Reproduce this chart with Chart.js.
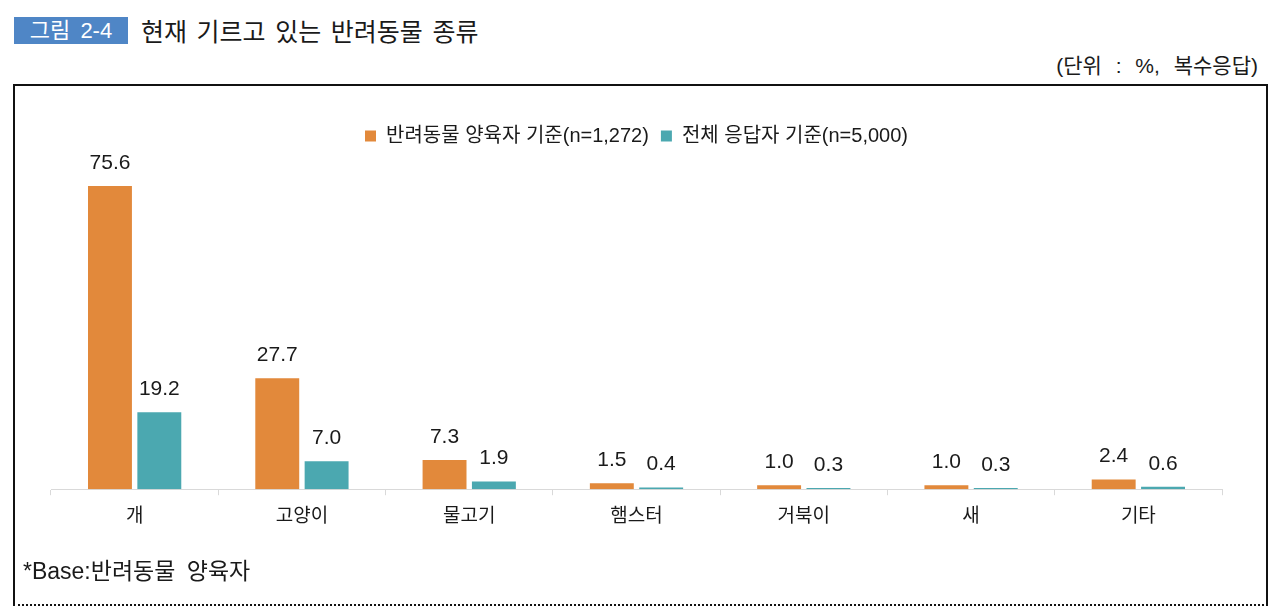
<!DOCTYPE html>
<html>
<head>
<meta charset="utf-8">
<script src="https://cdn.jsdelivr.net/npm/chart.js@4.4.1/dist/chart.umd.min.js"></script>
<style>
  html, body { margin: 0; padding: 0; background: #fff; }
  body { width: 1280px; height: 606px; position: relative; overflow: hidden;
         font-family: "Liberation Sans", "Noto Sans CJK KR", sans-serif; color: #1a1a1a; }
  #figTag { position: absolute; left: 14px; top: 17px; width: 114px; height: 27px;
            background: #4f86c6; color: #fff; font-size: 22px; line-height: 27px;
            text-align: center; word-spacing: 4px; }
  #figTitle { position: absolute; left: 141px; top: 14px; font-size: 25px; line-height: 33px;
              font-family: "Noto Sans CJK KR", sans-serif; font-weight: 400; word-spacing: 4px; }
  #unit { position: absolute; right: 22px; top: 51px; font-size: 21px; line-height: 30px; word-spacing: 8px; }
  #frame { position: absolute; left: 13px; top: 84px; width: 1251px; height: 518px;
           border-left: 2px solid #111; border-right: 2px solid #111; border-top: 2px solid #111;
           border-bottom: 2px dotted #111; }
  #note { position: absolute; left: 23px; top: 555px; font-size: 23px; line-height: 32px; word-spacing: 5px; }
  #wrap { position: absolute; left: 16px; top: 87px; width: 1248px; height: 470px; }
</style>
</head>
<body>
<div id="figTag">그림 2-4</div>
<div id="figTitle">현재 기르고 있는 반려동물 종류</div>
<div id="unit">(단위 : %, 복수응답)</div>
<div id="frame"></div>
<div id="wrap"><canvas id="petChart" width="1248" height="470"></canvas></div>
<div id="note">*Base:반려동물 양육자</div>

<script>
const categories = ["개", "고양이", "물고기", "햄스터", "거북이", "새", "기타"];
const seriesNames = ["반려동물 양육자 기준(n=1,272)", "전체 응답자 기준(n=5,000)"];
const ownerValues = [75.6, 27.7, 7.3, 1.5, 1.0, 1.0, 2.4];
const allValues = [19.2, 7.0, 1.9, 0.4, 0.3, 0.3, 0.6];

const FONT = '"Liberation Sans", "Noto Sans CJK KR", sans-serif';

// values drawn above each bar
const barValueLabels = {
  id: "barValueLabels",
  afterDatasetsDraw(chart) {
    const ctx = chart.ctx;
    ctx.save();
    ctx.font = "21px " + FONT;
    ctx.fillStyle = "#1a1a1a";
    ctx.textAlign = "center";
    ctx.textBaseline = "middle";
    chart.data.datasets.forEach((ds, i) => {
      chart.getDatasetMeta(i).data.forEach((bar, j) => {
        ctx.fillText(ds.data[j].toFixed(1), bar.x, bar.y - 23);
      });
    });
    ctx.restore();
  }
};

new Chart(document.getElementById("petChart"), {
  type: "bar",
  data: {
    labels: categories,
    datasets: [
      {
        label: seriesNames[0],
        data: ownerValues,
        backgroundColor: "rgb(226, 137, 59)",
        categoryPercentage: 0.59,
        barPercentage: 0.89,
      },
      {
        label: seriesNames[1],
        data: allValues,
        backgroundColor: "rgb(75, 168, 176)",
        categoryPercentage: 0.59,
        barPercentage: 0.89,
      },
    ],
  },
  options: {
    responsive: false,
    animation: false,
    layout: { padding: { left: 35, right: 42, top: 27, bottom: 19 } },
    plugins: {
      legend: {
        position: "top",
        labels: {
          boxWidth: 11,
          boxHeight: 11,
          padding: 12,
          color: "#1a1a1a",
          font: { family: FONT, size: 20 },
        },
      },
      tooltip: { enabled: false },
    },
    scales: {
      x: {
        grid: { display: true, drawOnChartArea: false, tickLength: 6, color: "#d9d9d9" },
        border: { color: "#d9d9d9" },
        ticks: { color: "#1a1a1a", padding: 10, font: { family: FONT, size: 19 } },
      },
      y: {
        display: false,
        min: 0,
        max: 83.1,
      },
    },
  },
  plugins: [barValueLabels],
});
</script>
</body>
</html>
